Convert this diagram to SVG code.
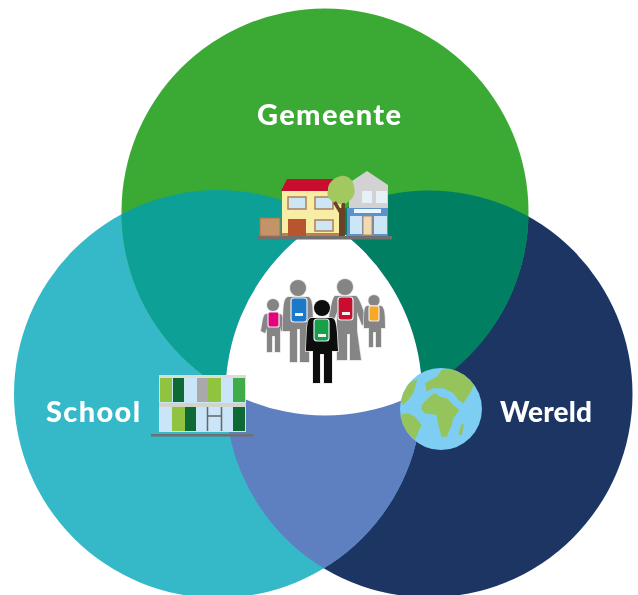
<svg xmlns="http://www.w3.org/2000/svg" width="638" height="595" viewBox="0 0 638 595">
<style>
.lbl{font-family:"Lato","Open Sans","Liberation Sans",sans-serif;font-weight:900;fill:#fff;font-size:29px}
.grey{fill:#858585;stroke:#e2e2e2;stroke-width:1.500;paint-order:stroke}
.blk{fill:#0a0a0a;stroke:#e8e8e8;stroke-width:1.500;paint-order:stroke}
.pack{stroke:#e8eef2;stroke-width:1.200}
.bar{fill:#f2f2f2}
.win{fill:#cde6f6;stroke:#a9805a;stroke-width:1.500}
.glass{fill:#cde6f6}
.pane{fill:#e6f1f7}
.dg{fill:#0d6a35}
.lg{fill:#90c440}
.land{fill:#95c45c}
</style>
<defs>
<clipPath id="cG"><circle cx="325" cy="212" r="203.500"/></clipPath>
<clipPath id="cS"><circle cx="218" cy="394" r="204"/></clipPath>
<clipPath id="cE"><circle cx="441" cy="409" r="41"/></clipPath>
<filter id="soft" filterUnits="userSpaceOnUse" x="0" y="0" width="638" height="595"><feGaussianBlur stdDeviation="0.55"/></filter>
</defs>
<rect width="638" height="595" fill="#fff"/>
<g filter="url(#soft)">
<g id="circles">
<circle cx="429" cy="394" r="203.500" fill="#1a3564"/>
<circle cx="218" cy="394" r="204" fill="#35b9c9"/>
<circle cx="325" cy="212" r="203.500" fill="#3aaa35"/>
<g clip-path="url(#cG)"><circle cx="218" cy="394" r="204" fill="#0fa096"/><circle cx="429" cy="394" r="203.500" fill="#017f64"/></g>
<g clip-path="url(#cS)"><circle cx="429" cy="394" r="203.500" fill="#5f80c0"/></g>
<g clip-path="url(#cG)"><g clip-path="url(#cS)"><circle cx="429" cy="394" r="203.500" fill="#fff"/></g></g>
</g>
<g id="gemeente">
<text class="lbl" x="257" y="125" textLength="144" lengthAdjust="spacing">Gemeente</text>
<rect x="257" y="236" width="135" height="3.500" fill="#6f6f6f"/>
<rect x="260" y="218" width="20" height="18" fill="#c49467" stroke="#a9744a"/>
<rect x="282" y="190" width="59" height="46" fill="#f8eda5"/>
<rect x="282" y="233" width="59" height="3" fill="#c57a50"/>
<path d="M281 191L287 179H335L341 191Z" fill="#c8102e"/>
<rect class="win" x="288" y="197" width="18" height="12"/>
<rect class="win" x="315" y="197" width="18" height="12"/>
<rect class="win" x="315" y="220" width="18" height="11"/>
<rect x="288" y="219" width="18" height="17" fill="#b8552f"/>
<path d="M349 236V183L367 171L388 185V236Z" fill="#d2d2d2"/>
<rect x="347" y="208" width="41" height="28" fill="#5a92d0"/>
<rect class="pane" x="362" y="191" width="10" height="12"/><rect class="pane" x="376" y="191" width="11" height="12"/>
<rect x="354" y="209" width="27" height="4" fill="#eef6fb"/>
<rect class="glass" x="350" y="216" width="12" height="18"/><rect class="glass" x="374" y="216" width="13" height="18"/>
<rect x="363" y="216" width="9" height="19" fill="#f3d9b1" stroke="#b78a5a"/>
<path d="M341 176C347 175 354 180 354 187C356 193 353 199 349 201C345 206 338 205 335 202C329 201 326 195 328 190C327 184 334 177 341 176Z" fill="#a2c961"/>
<path d="M339 236V213L333 203L336 201L340 208H342V203H345V236Z" fill="#6b4226"/>
</g>
<g id="mensen">
<g class="grey">
<circle cx="273" cy="305" r="6"/><path d="M266 314H280C283 315 284 320 285 330L281 331L280 326V352H275V336H272V352H267V328L265 333L261 331C263 320 263 315 266 314Z"/>
<circle cx="298" cy="288" r="8"/><path d="M288 297H308C312 298 313 304 313 331H309V362H300V329H297V362H290V331H283C283 304 284 298 288 297Z"/>
<circle cx="345" cy="287" r="8"/><path d="M335 296H356C359 298 363 308 367 323L362 325L357 312V331L361 360H350V334H347V360H337L337 331V312L332 325L328 323C331 308 332 298 335 296Z"/>
<circle cx="374" cy="300.500" r="5.500"/><path d="M367 306H381C384 307 385 312 385 328H381V347H376V332H373V347H369V328H364C364 312 364 307 367 306Z"/>
</g>
<circle class="blk" cx="322" cy="308" r="8"/>
<path class="blk" d="M311 318H332C336 319 337 325 338 351H332V383H324V354H320V383H313V351H306C307 325 307 319 311 318Z"/>
<rect class="pack" x="268" y="312" width="11" height="15" rx="2" fill="#e6007e"/>
<rect class="pack" x="291" y="298" width="16" height="24" rx="3" fill="#1f78c8"/>
<rect class="pack" x="338" y="297" width="15" height="23" rx="3" fill="#c8102e"/>
<rect class="pack" x="369" y="306" width="10" height="15" rx="2" fill="#f9a825"/>
<rect class="pack" x="314" y="319" width="15" height="22" rx="3" fill="#14a04a"/>
<rect class="bar" x="295" y="313" width="8" height="3"/><rect class="bar" x="342" y="312" width="8" height="3"/><rect class="bar" x="318" y="334" width="8" height="3"/>
</g>
<g id="school">
<text class="lbl" x="46" y="422" textLength="94" lengthAdjust="spacing">School</text>
<rect x="159" y="375" width="87" height="57" fill="#c9e5f7"/>
<rect x="159" y="375" width="87" height="3" fill="#dcdcd4"/>
<rect x="159" y="403" width="87" height="4" fill="#d3d3c8"/>
<rect x="160" y="378" width="12" height="24" class="lg"/><rect x="173" y="378" width="11" height="24" class="dg"/>
<rect x="197" y="378" width="11" height="24" fill="#a9a9a9"/><rect x="208" y="378" width="13" height="24" class="lg"/>
<rect x="233" y="378" width="12" height="24" fill="#3fab48"/>
<rect x="172" y="407" width="13" height="24" class="lg"/><rect x="185" y="407" width="11" height="24" class="dg"/>
<rect x="233" y="407" width="12" height="24" class="dg"/>
<path d="M207.500 407V431M221.500 407V431M207 416H222" stroke="#666" stroke-width="1.500" fill="none"/>
<rect x="151" y="434" width="102" height="2.500" fill="#6f6f6f"/>
</g>
<g id="wereld">
<text class="lbl" x="500" y="422" textLength="92" lengthAdjust="spacing" style="font-size:28px">Wereld</text>
<circle cx="441" cy="409" r="41" fill="#7ecdf3"/>
<g clip-path="url(#cE)">
<g class="land" transform="translate(390 360) scale(.3333)">
<path d="M105 70L140 50L155 30L195 22L260 60L240 100L220 130L205 120L190 100L160 85L130 85L110 95Z"/>
<path d="M82 58L70 100L50 125L40 135L32 125L40 95L55 70Z"/>
<path d="M95 135L125 105L137 100L150 110L170 115L190 135L208 150L190 175L185 195L170 230L155 230L145 195L140 165L105 160L95 150Z"/>
<path d="M25 165L55 160L75 170L95 195L85 215L75 240L50 215L30 190Z"/>
<path d="M215 190L222 195L215 225L205 225Z"/>
</g>
</g>
</g>
</g>
</svg>
